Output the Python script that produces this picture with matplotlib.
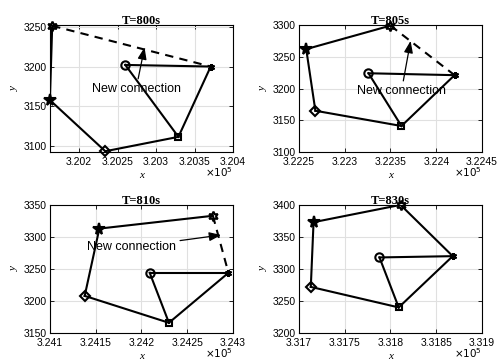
import matplotlib
matplotlib.use("Agg")
import matplotlib.pyplot as plt
from matplotlib.ticker import FuncFormatter

plt.rcParams["font.family"] = ["Liberation Sans", "DejaVu Sans"]

# ---------------- data (x in m, y in m) ----------------
titles = ["T=800s", "T=805s", "T=810s", "T=830s"]

# node order: circle, square, asterisk, hexagram, pentagram, diamond
nodes_x = [
    [320260, 320329, 320371, 320165, 320162, 320234],
    [322326, 322362, 322420, 322350, 322258, 322268],
    [324209, 324230, 324295, 324278, 324154, 324138],
    [331788, 331809, 331868, 331811, 331716, 331713],
]
nodes_y = [
    [3202, 3112, 3200, 3251, 3158, 3094],
    [3224, 3141, 3221, 3299, 3262, 3165],
    [3244, 3166, 3244, 3333, 3313, 3208],
    [3318, 3240, 3320, 3400, 3373, 3272],
]

# solid links (index pairs into the node lists)
solid_links = [
    [(0, 2), (0, 1), (1, 2), (5, 1), (5, 4), (4, 3)],
    [(0, 2), (0, 1), (1, 2), (5, 1), (5, 4), (4, 3)],
    [(0, 2), (0, 1), (1, 2), (5, 1), (5, 4), (4, 3)],
    [(0, 2), (0, 1), (1, 2), (5, 1), (5, 4), (4, 3), (3, 2)],
]
# dashed (new) link
dashed_links = [(3, 2), (3, 2), (3, 2), None]

# "New connection" annotation: text centre and arrow head
note_xy = [(320274, 3172), (322362, 3196), (324189, 3284), None]
head_xy = [(320285, 3224), (322372, 3275), (324287, 3303), None]

xlims = [(320162, 320400), (322250, 322450), (324100, 324300), (331700, 331900)]
ylims = [(3093, 3252), (3100, 3300), (3150, 3350), (3200, 3400)]
xticks = [
    [320200, 320250, 320300, 320350, 320400],
    [322250, 322300, 322350, 322400, 322450],
    [324100, 324150, 324200, 324250, 324300],
    [331700, 331750, 331800, 331850, 331900],
]
yticks = [
    [3100, 3150, 3200, 3250],
    [3100, 3150, 3200, 3250, 3300],
    [3150, 3200, 3250, 3300, 3350],
    [3200, 3250, 3300, 3350, 3400],
]

markers = ["o", "s", (6, 2, 0), (6, 1, 0), "*", "D"]
msizes = [6, 5, 5, 7, 8.5, 5]

# ---------------- figure ----------------
fig = plt.figure(figsize=(4.99, 3.62), dpi=100)
boxes = [
    [0.100, 0.580, 0.367, 0.351],
    [0.599, 0.580, 0.367, 0.351],
    [0.100, 0.080, 0.367, 0.354],
    [0.599, 0.080, 0.367, 0.354],
]

for k in range(4):
    ax = fig.add_axes(boxes[k])
    xs, ys = nodes_x[k], nodes_y[k]

    for a, b in solid_links[k]:
        ax.plot([xs[a], xs[b]], [ys[a], ys[b]], "-", color="black", lw=1.5, zorder=3)
    if dashed_links[k] is not None:
        a, b = dashed_links[k]
        ax.plot([xs[a], xs[b]], [ys[a], ys[b]], "--", color="black", lw=1.5,
                dashes=(4, 3), zorder=3)

    for i in range(6):
        ax.plot(xs[i], ys[i], marker=markers[i], ms=msizes[i], color="black",
                mfc="none" if i in (0, 1, 3, 5) else "black", mew=1.5,
                linestyle="none", zorder=4, clip_on=False)

    if note_xy[k] is not None:
        ax.annotate("New connection", xy=head_xy[k], xytext=note_xy[k],
                    ha="center", va="center", fontsize=9,
                    arrowprops=dict(arrowstyle="-|>,head_length=0.8,head_width=0.3",
                                    color="black", lw=0.9, shrinkA=1, shrinkB=0),
                    zorder=5)

    ax.set_xlim(xlims[k])
    ax.set_ylim(ylims[k])
    ax.set_xticks(xticks[k])
    ax.set_yticks(yticks[k])
    ax.xaxis.set_major_formatter(FuncFormatter(lambda v, p: f"{v / 1e5:g}"))
    ax.grid(True, color="#e0e0e0", lw=0.8, zorder=0)
    ax.set_axisbelow(True)
    ax.tick_params(direction="in", top=True, right=True, length=3, width=0.6,
                   labelsize=7.5)
    ax.tick_params(axis="x", pad=3.5)
    ax.tick_params(axis="y", pad=2)
    for s in ax.spines.values():
        s.set_linewidth(0.8)

    ax.set_title(titles[k], fontsize=9, fontweight="bold",
                 family=["Liberation Serif", "DejaVu Serif"], pad=1)
    ax.set_xlabel("x", fontsize=8, style="italic",
                  family=["Liberation Serif", "DejaVu Serif"], labelpad=3)
    ax.set_ylabel("y", fontsize=8, style="italic",
                  family=["Liberation Serif", "DejaVu Serif"], labelpad=4)
    ax.text(1.0, -0.16, r"$\times10^{5}$", transform=ax.transAxes,
            ha="right", va="center", fontsize=7.5)

fig.savefig("out.png", dpi=100)
